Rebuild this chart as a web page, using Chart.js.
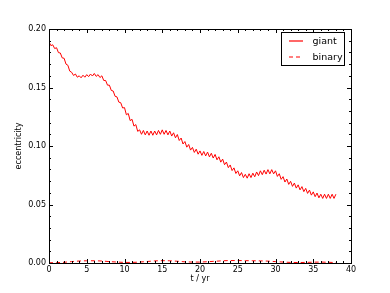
<!DOCTYPE html>
<html lang="en">

<head>
    <meta charset="UTF-8">
    <title>Eccentricity</title>
    <script src="https://cdn.jsdelivr.net/npm/chart.js"></script>
    <style>
        body {
            margin: 0;
            background: white;
        }
    </style>
</head>

<body>

    <canvas id="ecc-chart" width="390" height="293"></canvas>

    <script>
        const giantYears = [
            0, 0.25, 0.5, 0.75, 1, 1.25, 1.5, 1.75, 2, 2.25, 2.5, 2.75, 3, 3.25, 3.5, 3.75,
            4, 4.25, 4.5, 4.75, 5, 5.25, 5.5, 5.75, 6, 6.25, 6.5, 6.75, 7, 7.25, 7.5, 7.75,
            8, 8.25, 8.5, 8.75, 9, 9.25, 9.5, 9.75, 10, 10.25, 10.5, 10.75, 11, 11.25, 11.5, 11.75,
            12, 12.25, 12.5, 12.75, 13, 13.25, 13.5, 13.75, 14, 14.25, 14.5, 14.75, 15, 15.25, 15.5, 15.75,
            16, 16.25, 16.5, 16.75, 17, 17.25, 17.5, 17.75, 18, 18.25, 18.5, 18.75, 19, 19.25, 19.5, 19.75,
            20, 20.25, 20.5, 20.75, 21, 21.25, 21.5, 21.75, 22, 22.25, 22.5, 22.75, 23, 23.25, 23.5, 23.75,
            24, 24.25, 24.5, 24.75, 25, 25.25, 25.5, 25.75, 26, 26.25, 26.5, 26.75, 27, 27.25, 27.5, 27.75,
            28, 28.25, 28.5, 28.75, 29, 29.25, 29.5, 29.75, 30, 30.25, 30.5, 30.75, 31, 31.25, 31.5, 31.75,
            32, 32.25, 32.5, 32.75, 33, 33.25, 33.5, 33.75, 34, 34.25, 34.5, 34.75, 35, 35.25, 35.5, 35.75,
            36, 36.25, 36.5, 36.75, 37, 37.25, 37.5, 37.75, 38
        ];
        const giantEcc = [
            0.1890, 0.1858, 0.1865, 0.1833, 0.1840, 0.1798, 0.1795, 0.1753, 0.1750, 0.1700, 0.1690, 0.1640, 0.1630, 0.1603, 0.1615, 0.1588,
            0.1600, 0.1583, 0.1605, 0.1588, 0.1610, 0.1593, 0.1615, 0.1598, 0.1620, 0.1595, 0.1610, 0.1585, 0.1600, 0.1560, 0.1560, 0.1520,
            0.1520, 0.1475, 0.1470, 0.1425, 0.1420, 0.1375, 0.1370, 0.1325, 0.1328, 0.1267, 0.1278, 0.1217, 0.1228, 0.1170, 0.1183, 0.1125,
            0.1138, 0.1100, 0.1133, 0.1095, 0.1128, 0.1092, 0.1128, 0.1092, 0.1128, 0.1095, 0.1133, 0.1100, 0.1138, 0.1100, 0.1133, 0.1095,
            0.1128, 0.1085, 0.1113, 0.1070, 0.1098, 0.1047, 0.1068, 0.1017, 0.1038, 0.0990, 0.1013, 0.0965, 0.0988, 0.0945, 0.0973, 0.0930,
            0.0958, 0.0920, 0.0953, 0.0915, 0.0948, 0.0907, 0.0938, 0.0897, 0.0928, 0.0882, 0.0908, 0.0862, 0.0888, 0.0840, 0.0863, 0.0815,
            0.0838, 0.0790, 0.0813, 0.0765, 0.0788, 0.0745, 0.0773, 0.0730, 0.0758, 0.0725, 0.0763, 0.0730, 0.0768, 0.0737, 0.0778, 0.0747,
            0.0788, 0.0755, 0.0793, 0.0760, 0.0798, 0.0762, 0.0798, 0.0762, 0.0788, 0.0740, 0.0763, 0.0715, 0.0738, 0.0692, 0.0718, 0.0672,
            0.0698, 0.0655, 0.0683, 0.0640, 0.0668, 0.0625, 0.0653, 0.0610, 0.0638, 0.0595, 0.0623, 0.0580, 0.0608, 0.0567, 0.0598, 0.0557,
            0.0588, 0.0552, 0.0588, 0.0552, 0.0588, 0.0552, 0.0588, 0.0552, 0.0588
        ];

        // binary eccentricity, once a year
        const binaryYears = [
            0, 1, 2, 3, 4, 5, 6, 7, 8, 9, 10, 11, 12, 13, 14, 15, 16, 17, 18, 19,
            20, 21, 22, 23, 24, 25, 26, 27, 28, 29, 30, 31, 32, 33, 34, 35, 36, 37, 38
        ];
        const binaryEcc = [
            0.0002, 0.0003, 0.0006, 0.0012, 0.0017, 0.0019, 0.0019, 0.0017, 0.0012, 0.0008,
            0.0005, 0.0005, 0.0008, 0.0013, 0.0018, 0.0020, 0.0019, 0.0015, 0.0010, 0.0008,
            0.0008, 0.0011, 0.0015, 0.0019, 0.0021, 0.0021, 0.0020, 0.0019, 0.0018, 0.0016,
            0.0012, 0.0008, 0.0005, 0.0004, 0.0005, 0.0007, 0.0008, 0.0006, 0.0004
        ];

        const seriesNames = ['giant', 'binary'];
        const seriesColor = 'rgb(255, 0, 0)';
        const seriesDash = [[], [4, 3]];

        const xMin = 0, xMax = 40, xMajor = 5, xMinor = 1;
        const yMin = 0, yMax = 0.20, yMajor = 0.05, yMinor = 0.01;

        const fontFamily = '"DejaVu Sans", sans-serif';

        function toPoints(xs, ys) {
            return xs.map((x, i) => ({ x: x, y: ys[i] }));
        }

        // matplotlib style: frame round the plot, ticks pointing inwards on all sides, legend inside
        const mplFrame = {
            id: 'mplFrame',
            afterDraw(chart) {
                const c = chart.ctx;
                const a = chart.chartArea;
                const xs = chart.scales.x;
                const ys = chart.scales.y;
                c.save();
                c.strokeStyle = 'black';
                c.lineWidth = 1;
                c.setLineDash([]);
                c.strokeRect(Math.round(a.left) + 0.5, Math.round(a.top) + 0.5,
                    Math.round(a.right - a.left), Math.round(a.bottom - a.top));

                c.beginPath();
                const nx = Math.round((xMax - xMin) / xMinor);
                for (let i = 0; i <= nx; i++) {
                    const px = Math.round(xs.getPixelForValue(xMin + i * xMinor)) + 0.5;
                    const len = (i % (xMajor / xMinor) === 0) ? 4 : 2;
                    c.moveTo(px, a.bottom);
                    c.lineTo(px, a.bottom - len);
                    c.moveTo(px, a.top);
                    c.lineTo(px, a.top + len);
                }
                const ny = Math.round((yMax - yMin) / yMinor);
                for (let i = 0; i <= ny; i++) {
                    const py = Math.round(ys.getPixelForValue(yMin + i * yMinor)) + 0.5;
                    const len = (i % 5 === 0) ? 4 : 2;
                    c.moveTo(a.left, py);
                    c.lineTo(a.left + len, py);
                    c.moveTo(a.right, py);
                    c.lineTo(a.right - len, py);
                }
                c.stroke();
                c.restore();

                // legend box
                const bx = 281.5, by = 32.5, bw = 63, bh = 33;
                c.save();
                c.fillStyle = 'white';
                c.strokeStyle = 'black';
                c.lineWidth = 1;
                c.fillRect(bx, by, bw, bh);
                c.strokeRect(bx, by, bw, bh);
                c.font = '9.5px ' + fontFamily;
                c.textBaseline = 'middle';
                c.textAlign = 'left';
                seriesNames.forEach((name, i) => {
                    // on a pixel edge so the 1px line spreads over two rows, like the antialiased original
                    const ly = Math.round(by + 8 + i * 16);
                    c.strokeStyle = seriesColor;
                    c.lineWidth = 1.2;
                    c.setLineDash(seriesDash[i]);
                    c.beginPath();
                    c.moveTo(bx + 7.5, ly);
                    c.lineTo(bx + 21.5, ly);
                    c.stroke();
                    c.setLineDash([]);
                    c.fillStyle = 'black';
                    c.fillText(name, bx + 31, ly + 0.5);
                });
                c.restore();
            }
        };

        const ctx = document.getElementById('ecc-chart').getContext('2d');

        new Chart(ctx, {
            type: 'line',
            data: {
                datasets: [{
                    label: seriesNames[0],
                    data: toPoints(giantYears, giantEcc),
                    borderColor: seriesColor,
                    borderWidth: 1,
                    borderDash: seriesDash[0],
                    pointRadius: 0,
                    tension: 0
                }, {
                    label: seriesNames[1],
                    data: toPoints(binaryYears, binaryEcc),
                    borderColor: seriesColor,
                    borderWidth: 1,
                    borderDash: seriesDash[1],
                    pointRadius: 0,
                    tension: 0
                }]
            },
            options: {
                responsive: false,
                animation: false,
                layout: {
                    padding: { top: 29, right: 39, left: 0, bottom: 0 }
                },
                plugins: {
                    legend: { display: false },
                    tooltip: { enabled: false }
                },
                scales: {
                    x: {
                        type: 'linear',
                        min: xMin,
                        max: xMax,
                        grid: { display: false, drawTicks: false },
                        border: { display: false },
                        ticks: {
                            stepSize: xMajor,
                            color: 'black',
                            padding: 2,
                            maxRotation: 0,
                            font: { family: fontFamily, size: 8 }
                        },
                        title: {
                            display: true,
                            text: 't / yr',
                            color: 'black',
                            padding: { top: 0, bottom: 9 },
                            font: { family: fontFamily, size: 8 }
                        },
                        afterFit(scale) { scale.height = 30; }
                    },
                    y: {
                        min: yMin,
                        max: yMax,
                        grid: { display: false, drawTicks: false },
                        border: { display: false },
                        ticks: {
                            stepSize: yMajor,
                            color: 'black',
                            padding: 3,
                            font: { family: fontFamily, size: 8 },
                            callback: v => v.toFixed(2)
                        },
                        title: {
                            display: true,
                            text: 'eccentricity',
                            color: 'black',
                            padding: { top: 14, bottom: 0 },
                            font: { family: fontFamily, size: 8 }
                        },
                        afterFit(scale) { scale.width = 49; }
                    }
                }
            },
            plugins: [mplFrame]
        });
    </script>
</body>

</html>
